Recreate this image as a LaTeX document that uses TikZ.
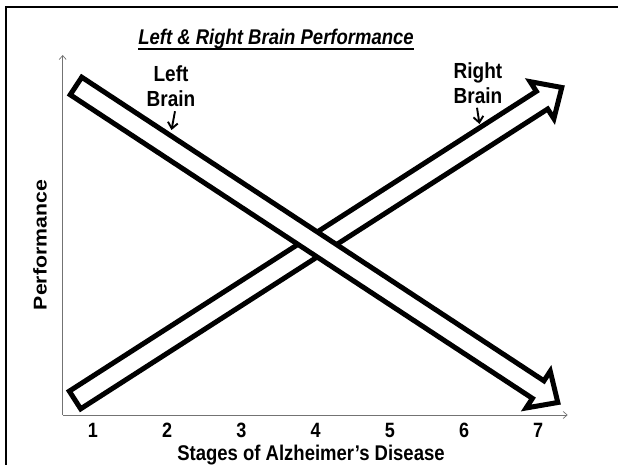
\documentclass[tikz,border=0pt]{standalone}
\usepackage{fontspec}
\setmainfont{Liberation Sans}
\usetikzlibrary{arrows.meta}

\begin{document}
\begin{tikzpicture}[
  x=1pt, y=1pt,
  font=\bfseries\fontsize{19}{21.7}\selectfont,
  tall/.style={yscale=1.15, transform shape},
  frame/.style={line width=2.6pt},
  axisline/.style={-{Straight Barb[length=4pt,width=7pt]}, line width=0.7pt, black!55},
  brainarrow/.style={line width=5pt, fill=white, line join=miter},
  pointer/.style={-{Straight Barb[length=6pt,width=10pt]}, line width=1.9pt},
  lbl/.style={tall, align=center, inner sep=0pt},
  tick/.style={tall, inner sep=0pt, font=\bfseries\fontsize{18}{20}\selectfont}
]
\useasboundingbox (0,0) rectangle (618,465);
\clip (0,0) rectangle (618,465);

% slide frame
\draw[frame] (6,458) rectangle (650,-30);

% title
\node[tall, inner sep=0pt, anchor=base, font=\bfseries\itshape\fontsize{18.5}{20}\selectfont] (title) at (276,420) {Left \& Right Brain Performance};
\draw[line width=2pt] ([yshift=-4.5pt]title.base west) -- ([yshift=-4.5pt]title.base east);

% axes
\coordinate (origin) at (62.7,50);
\coordinate (ytop) at (62.7,410);
\coordinate (xend) at (567.7,50);
\draw[axisline] (origin) -- (ytop);
\draw[axisline] (origin) -- (xend);

% right brain goes up
\begin{scope}[shift={(75,65)}, rotate=32.7]
\draw[brainarrow] (0,-10.5) -- (555,-10.5) -- (555,-22) -- (578.5,0) -- (555,22) -- (555,10.5) -- (0,10.5) -- cycle;
\end{scope}

% left brain goes down
\begin{scope}[shift={(76,379)}, rotate=-33.3]
\draw[brainarrow] (0,-10.5) -- (553,-10.5) -- (553,-22) -- (576.5,0) -- (553,22) -- (553,10.5) -- (0,10.5) -- cycle;
\end{scope}

% labels
\node[lbl] (leftbrain) at (171,378.5) {Left\\Brain};
\node[lbl] (rightbrain) at (478,382) {Right\\Brain};
\coordinate (lefttip) at (171.5,335);
\coordinate (righttip) at (479.5,341);
\draw[pointer] ([xshift=4pt,yshift=-4pt]leftbrain.south) -- (lefttip);
\draw[pointer] ([xshift=-1pt,yshift=-4pt]rightbrain.south) -- (righttip);

% stages
\node[tick] (s1) at (93,34.5) {1};
\node[tick] (s2) at (167.2,34.5) {2};
\node[tick] (s3) at (241.4,34.5) {3};
\node[tick] (s4) at (315.6,34.5) {4};
\node[tick] (s5) at (389.8,34.5) {5};
\node[tick] (s6) at (464,34.5) {6};
\node[tick] (s7) at (538.2,34.5) {7};

\node[tall, inner sep=0pt, font=\bfseries\fontsize{18.5}{20}\selectfont] (xtitle) at (311,10) {Stages of Alzheimer’s Disease};
\node[inner sep=0pt, yscale=1.15, rotate=90, transform shape, font=\bfseries\fontsize{18.5}{20}\selectfont] (ytitle) at (40,220) {Performance};
\end{tikzpicture}
\end{document}
